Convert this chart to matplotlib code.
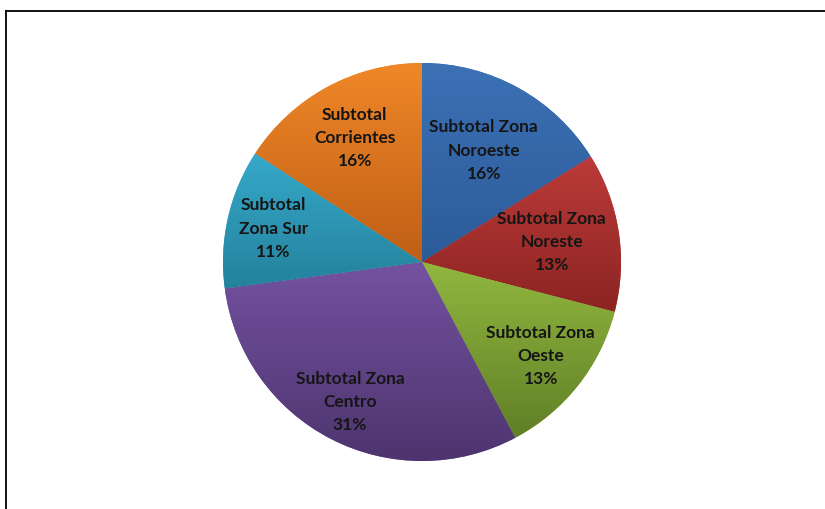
import matplotlib
matplotlib.use("Agg")
import matplotlib.pyplot as plt
import numpy as np
from matplotlib.colors import to_rgb
from matplotlib.lines import Line2D

labels = ["Subtotal Zona\nNoroeste", "Subtotal Zona\nNoreste", "Subtotal Zona\nOeste",
          "Subtotal Zona\nCentro", "Subtotal\nZona Sur", "Subtotal\nCorrientes"]
shares = [16.1, 12.9, 13.2, 30.6, 11.3, 15.8]

# light (top) and dark (bottom) colour of each slice gradient
top_colors = ["#3c71b6", "#bb3b39", "#92b73f", "#7452a0", "#36a9ca", "#f08828"]
bottom_colors = ["#2c5b98", "#8c2422", "#607f27", "#4d346e", "#24819b", "#bf5e16"]
label_radius = [0.64, 0.66, 0.76, 0.79, 0.765, 0.71]

W, H = 825, 509
cx, cy, R = 422, 262, 199

fig = plt.figure(figsize=(W / 100, H / 100), dpi=100)
ax = fig.add_axes([0, 0, 1, 1])

wedges, _ = ax.pie(shares, startangle=90, counterclock=False,
                   colors=top_colors, wedgeprops=dict(linewidth=0))

for w, c_top, c_bot in zip(wedges, top_colors, bottom_colors):
    ext = w.get_path().get_extents()
    t = np.linspace(0, 1, 256)[:, None, None]
    grad = (1 - t) * np.array(to_rgb(c_top)) + t * np.array(to_rgb(c_bot))
    im = ax.imshow(grad, extent=(ext.x0, ext.x1, ext.y0, ext.y1),
                   origin="upper", interpolation="bilinear", zorder=w.get_zorder() + 0.1)
    im.set_clip_path(w)

for w, lab, share, r in zip(wedges, labels, shares, label_radius):
    mid = np.deg2rad((w.theta1 + w.theta2) / 2)
    ax.text(r * np.cos(mid), r * np.sin(mid), f"{lab}\n{share:.0f}%",
            ha="center", va="center", fontsize=12.5, fontweight="bold",
            family="Lato", color="#151515", linespacing=1.55, zorder=5)

ax.set_aspect("auto")
ax.set_xlim(-cx / R, (W - cx) / R)
ax.set_ylim(-(H - cy) / R, cy / R)
ax.axis("off")

# chart frame (only left and top edges visible in the crop)
fig.add_artist(Line2D([5.5 / W, 5.5 / W], [0, 1 - 10.5 / H], color="black", lw=1.3))
fig.add_artist(Line2D([5.5 / W, 1], [1 - 10.5 / H, 1 - 10.5 / H], color="black", lw=1.3))

fig.savefig("out.png", dpi=100)
